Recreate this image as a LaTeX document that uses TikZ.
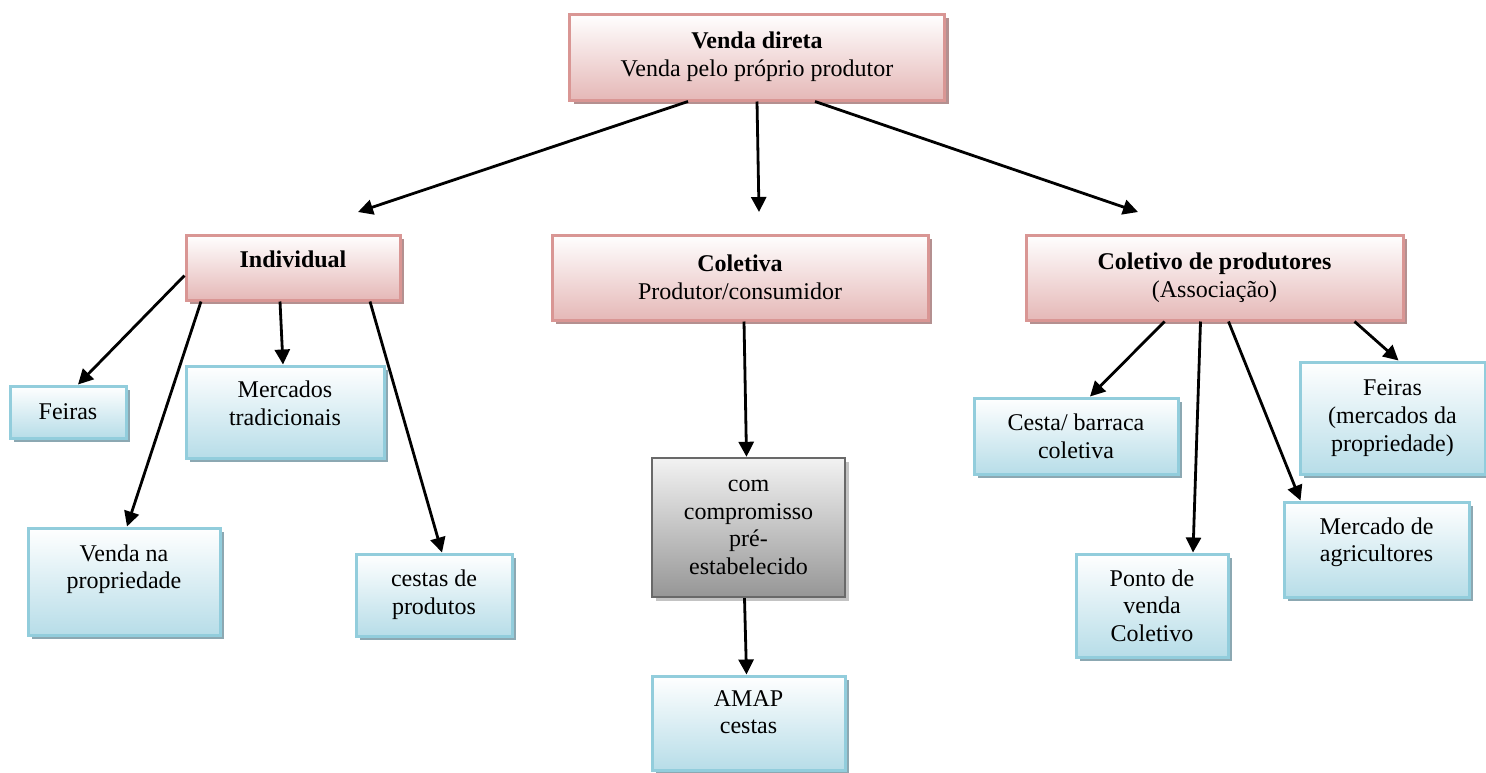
\documentclass[tikz,border=0pt]{standalone}
\usepackage{fontspec}
\setmainfont{Liberation Serif}
\usetikzlibrary{arrows.meta,shadows}

\definecolor{pinkline}{RGB}{217,150,148}
\definecolor{pinkbot}{RGB}{229,184,183}
\definecolor{pinkshad}{RGB}{180,144,144}
\definecolor{blueline}{RGB}{146,205,220}
\definecolor{bluebot}{RGB}{183,221,232}
\definecolor{blueshad}{RGB}{140,168,178}
\definecolor{grayline}{RGB}{105,105,105}
\definecolor{graybot}{RGB}{150,150,150}
\definecolor{grayshad}{RGB}{195,195,195}

\begin{document}
\begin{tikzpicture}[
  x=0.5pt, y=-0.5pt,
  every node/.style={font=\fontsize{12}{13.8}\selectfont, align=center, inner sep=1pt},
  redbox/.style={draw=pinkline, line width=1.5pt, top color=white, bottom color=pinkbot,
    drop shadow={fill=pinkshad, opacity=1, shadow xshift=2.2pt, shadow yshift=-2.2pt}},
  bluebox/.style={draw=blueline, line width=1.5pt, top color=white, bottom color=bluebot,
    drop shadow={fill=blueshad, opacity=1, shadow xshift=2.2pt, shadow yshift=-2.2pt}},
  graybox/.style={draw=grayline, line width=1.2pt, top color=gray!10, bottom color=graybot,
    drop shadow={fill=grayshad, opacity=1, shadow xshift=2.2pt, shadow yshift=-2.2pt}},
  up/.style={text depth=#1},
  arr/.style={-{Triangle[length=7.5pt,width=7.5pt]}, line width=1.4pt}
]
\useasboundingbox (0,0) rectangle (1486,772);

\node[redbox, minimum width=187.5pt, minimum height=43pt] (top) at (757,57)
  {\textbf{Venda direta}\\Venda pelo próprio produtor};

\node[redbox, minimum width=107pt, minimum height=32.5pt, up=8pt] (ind) at (293,267.5)
  {\textbf{Individual}};
\node[redbox, minimum width=188pt, minimum height=42.5pt] (col) at (740,277.5)
  {\textbf{Coletiva}\\Produtor/consumidor};
\node[redbox, minimum width=188.5pt, minimum height=42.5pt] (prod) at (1214.5,277.5)
  {\textbf{Coletivo de produtores}\\(Associação)};

\node[bluebox, minimum width=58pt, minimum height=26pt] (feiras) at (68,412) {Feiras};
\node[bluebox, minimum width=99pt, minimum height=46pt, up=9pt] (merc) at (285,412)
  {Mercados\\tradicionais};
\node[bluebox, minimum width=96pt, minimum height=53.5pt, up=15pt] (vprop) at (124,581.5)
  {Venda na\\propriedade};
\node[bluebox, minimum width=78pt, minimum height=41pt] (cestas) at (434,595)
  {cestas de\\produtos};

\node[graybox, minimum width=96.5pt, minimum height=69.5pt] (comp) at (748.5,527.5)
  {com\\compromisso\\pré-\\estabelecido};
\node[bluebox, minimum width=96.5pt, minimum height=47pt, up=11pt] (amap) at (748.5,723)
  {AMAP\\cestas};

\node[bluebox, minimum width=102pt, minimum height=38pt] (cesta) at (1076,436)
  {Cesta/ barraca\\coletiva};
\node[bluebox, minimum width=92.5pt, minimum height=56pt] (feirasp) at (1392.5,418)
  {Feiras\\(mercados da\\propriedade)};
\node[bluebox, minimum width=92.5pt, minimum height=47.5pt, up=10pt] (mercag) at (1376.5,549.5)
  {Mercado de\\agricultores};
\node[bluebox, minimum width=76pt, minimum height=51.5pt] (ponto) at (1152,605.5)
  {Ponto de\\venda\\Coletivo};

\coordinate (tind) at (358,212);
\coordinate (tcol) at (759,212);
\coordinate (tprod) at (1138,212);

\draw[arr] ([xshift=-34.5pt]top.south) -- (tind);
\draw[arr] (top.south) -- (tcol);
\draw[arr] ([xshift=29pt]top.south) -- (tprod);

\draw[arr] ([yshift=-4pt]ind.west) -- ([xshift=5pt]feiras.north);
\draw[arr] ([xshift=-46pt]ind.south) -- ([xshift=1.5pt]vprop.north);
\draw[arr] ([xshift=-6.5pt]ind.south) -- ([xshift=-1pt]merc.north);
\draw[arr] ([xshift=38.5pt]ind.south) -- ([xshift=4pt]cestas.north);

\draw[arr] ([xshift=2pt]col.south) -- ([xshift=-1pt]comp.north);
\draw[arr] ([xshift=-2pt]comp.south) -- ([xshift=-1pt]amap.north);

\draw[arr] ([xshift=-25pt]prod.south) -- ([xshift=7pt]cesta.north);
\draw[arr] ([xshift=-7pt]prod.south) -- ([xshift=20.5pt]ponto.north);
\draw[arr] ([xshift=7pt]prod.south) -- ([xshift=-38pt]mercag.north);
\draw[arr] ([xshift=70pt]prod.south) -- ([xshift=3pt]feirasp.north);
\end{tikzpicture}
\end{document}
